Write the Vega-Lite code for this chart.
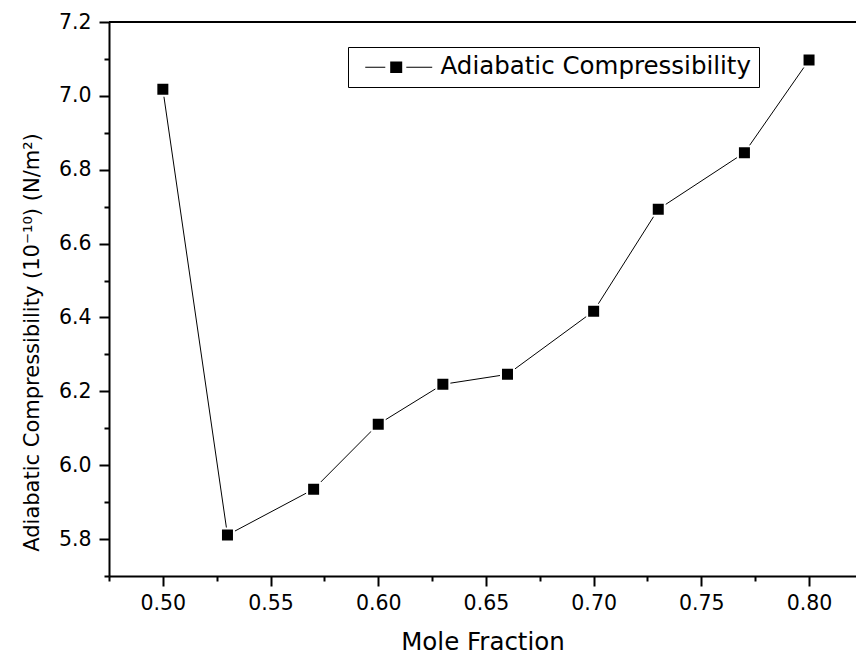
{
  "$schema": "https://vega.github.io/schema/vega-lite/v6.json",
  "width": 747,
  "height": 554,
  "autosize": {"type": "none"},
  "padding": {"left": 109, "top": 22, "right": 0, "bottom": 78},
  "background": "white",
  "config": {"view": {"stroke": null}},
  "data": {
    "values": [
      {"x": 0.50, "y": 7.018, "series": "Adiabatic Compressibility"},
      {"x": 0.53, "y": 5.811, "series": "Adiabatic Compressibility"},
      {"x": 0.57, "y": 5.935, "series": "Adiabatic Compressibility"},
      {"x": 0.60, "y": 6.111, "series": "Adiabatic Compressibility"},
      {"x": 0.63, "y": 6.219, "series": "Adiabatic Compressibility"},
      {"x": 0.66, "y": 6.246, "series": "Adiabatic Compressibility"},
      {"x": 0.70, "y": 6.417, "series": "Adiabatic Compressibility"},
      {"x": 0.73, "y": 6.693, "series": "Adiabatic Compressibility"},
      {"x": 0.77, "y": 6.846, "series": "Adiabatic Compressibility"},
      {"x": 0.80, "y": 7.097, "series": "Adiabatic Compressibility"}
    ]
  },
  "encoding": {
    "x": {
      "field": "x", "type": "quantitative",
      "scale": {"domain": [0.475, 0.8218], "nice": false, "zero": false},
      "axis": {
        "values": [0.475, 0.5, 0.525, 0.55, 0.575, 0.6, 0.625, 0.65, 0.675, 0.7, 0.725, 0.75, 0.775, 0.8],
        "labelExpr": "round(datum.value*1000) % 50 == 0 ? format(datum.value, '.2f') : ''",
        "tickSize": {"condition": {"test": "round(datum.value*1000) % 50 == 0", "value": 10}, "value": 5},
        "tickWidth": 2, "tickColor": "black",
        "domainWidth": 2, "domainColor": "black",
        "grid": false,
        "labelFont": "DejaVu Sans", "labelFontSize": 20.5, "labelColor": "black", "labelPadding": 7,
        "labelFlush": false, "labelOverlap": false,
        "title": "Mole Fraction",
        "titleFont": "DejaVu Sans", "titleFontSize": 24.5, "titleFontWeight": "normal", "titleColor": "black",
        "titleBaseline": "alphabetic", "titleY": 73
      }
    },
    "y": {
      "field": "y", "type": "quantitative",
      "scale": {"domain": [5.7, 7.2], "nice": false, "zero": false},
      "axis": {
        "values": [5.7, 5.8, 5.9, 6.0, 6.1, 6.2, 6.3, 6.4, 6.5, 6.6, 6.7, 6.8, 6.9, 7.0, 7.1, 7.2],
        "labelExpr": "round(datum.value*10) % 2 == 0 ? format(datum.value, '.1f') : ''",
        "tickSize": {"condition": {"test": "round(datum.value*10) % 2 == 0", "value": 10}, "value": 5},
        "tickWidth": 2, "tickColor": "black",
        "domainWidth": 2, "domainColor": "black",
        "grid": false,
        "labelFont": "DejaVu Sans", "labelFontSize": 20.5, "labelColor": "black", "labelPadding": 8,
        "labelFlush": false, "labelOverlap": false,
        "title": "Adiabatic Compressibility (10⁻¹⁰) (N/m²)",
        "titleFont": "DejaVu Sans", "titleFontSize": 21, "titleFontWeight": "normal", "titleColor": "black",
        "titleAngle": -90, "titleAlign": "center", "titleBaseline": "alphabetic",
        "titleX": -71, "titleY": 320
      }
    }
  },
  "layer": [
    {
      "mark": {"type": "rule", "color": "black", "strokeWidth": 1.2},
      "encoding": {"y": {"datum": 7.2}, "x": null}
    },
    {
      "mark": {"type": "line", "color": "black", "strokeWidth": 1}
    },
    {
      "mark": {"type": "point", "shape": "square", "filled": true, "size": 169, "stroke": "white", "strokeWidth": 2, "opacity": 1, "fillOpacity": 1},
      "encoding": {
        "color": {
          "field": "series", "type": "nominal",
          "scale": {"range": ["black"]},
          "legend": {
            "title": null,
            "orient": "none",
            "legendX": 239,
            "legendY": 25,
            "padding": 8,
            "strokeColor": "black",
            "fillColor": "white",
            "symbolType": "M-0.25,-0.045H1.42V0.045H-0.25Z M1.83,-0.48H2.83V0.48H1.83Z M3.17,-0.045H5.33V0.045H3.17Z",
            "symbolSize": 576,
            "symbolStrokeWidth": 0,
            "symbolFillColor": "black",
            "symbolOpacity": 1,
            "labelOffset": 60,
            "labelFont": "DejaVu Sans",
            "labelFontSize": 24.5,
            "labelColor": "black",
            "labelLimit": 0
          }
        }
      }
    }
  ]
}
